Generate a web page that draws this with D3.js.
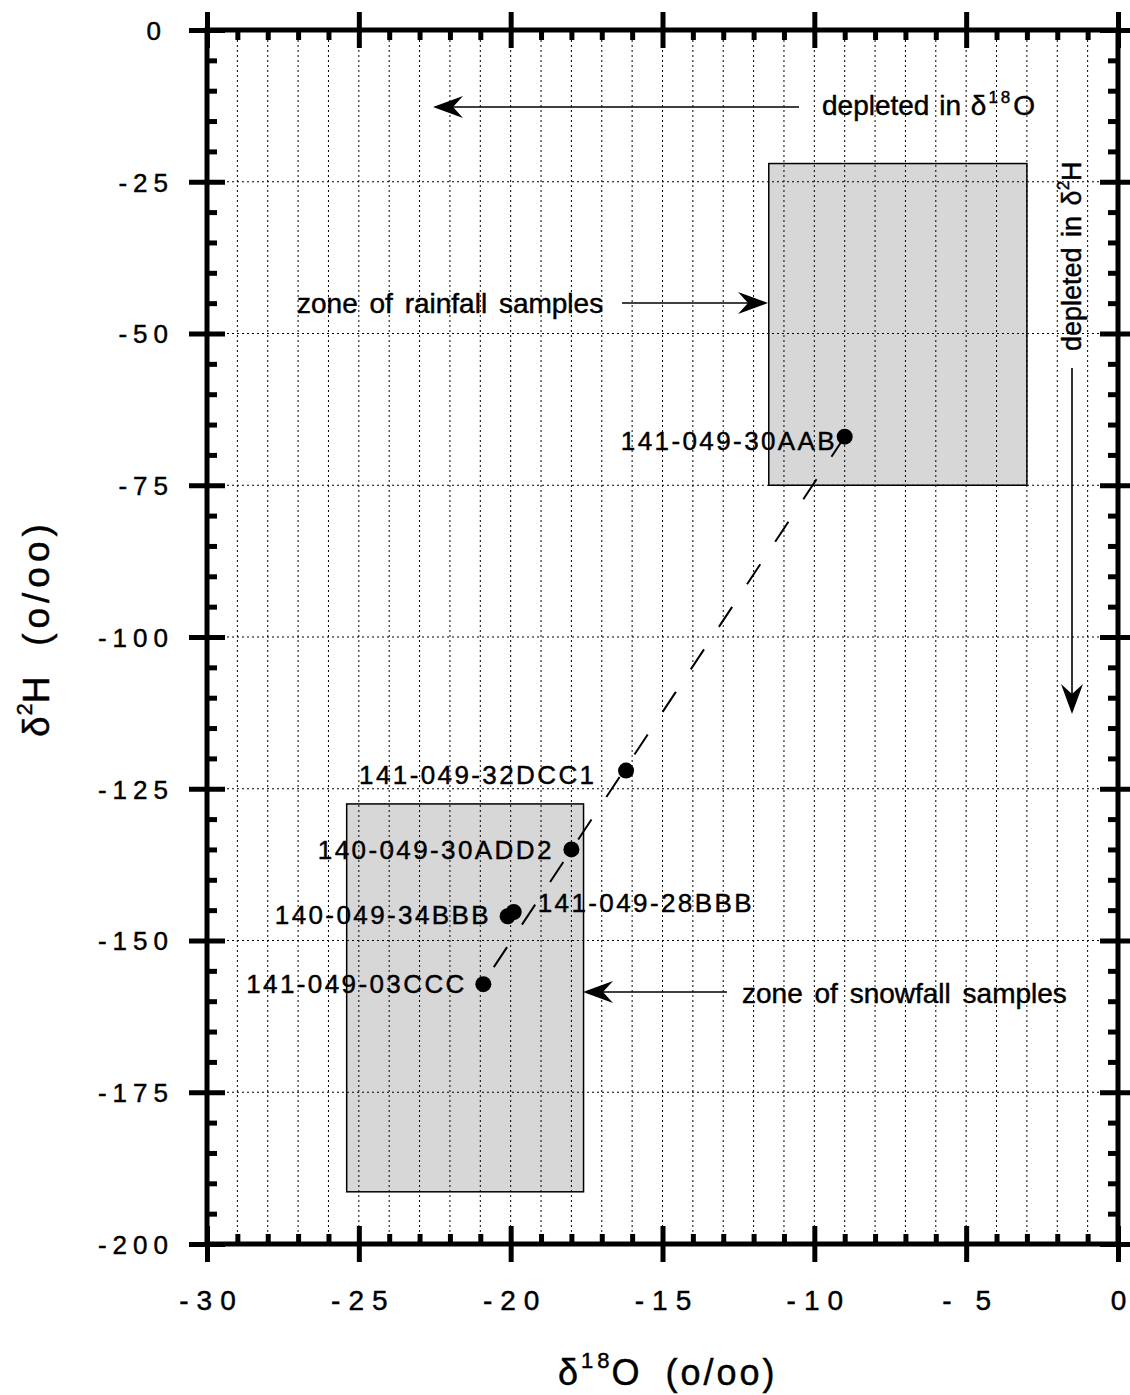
<!DOCTYPE html>
<html>
<head>
<meta charset="utf-8">
<script src="https://cdn.jsdelivr.net/npm/d3@7"></script>
<style>
  html, body { margin: 0; padding: 0; background: #fff; }
  svg { display: block; font-family: "Liberation Sans", Arial, Helvetica, sans-serif; }
  text { stroke: #000; stroke-width: 0.45px; }
</style>
</head>
<body>
<script>
// ---------- data ----------
const xTicks = [-30, -25, -20, -15, -10, -5, 0];
const xTickLabels = ["-30", "-25", "-20", "-15", "-10", "- 5", "0"];
const yTicks = [0, -25, -50, -75, -100, -125, -150, -175, -200];
const yTickLabels = ["0", "-25", "-50", "-75", "-100", "-125", "-150", "-175", "-200"];

const sampleNames = ["141-049-30AAB", "141-049-32DCC1", "140-049-30ADD2", "140-049-34BBB", "141-049-28BBB", "141-049-03CCC"];
const sampleO18 = [-9.0, -16.2, -18.0, -20.1, -19.9, -20.9];
const sampleH2 = [-67.0, -122.0, -135.0, -146.0, -145.3, -157.2];

// zones
const zoneNames = ["rainfall", "snowfall"];
const zoneO18Min = [-11.5, -25.4];
const zoneO18Max = [-3.0, -17.6];
const zoneH2Max = [-22.0, -127.5];
const zoneH2Min = [-75.0, -191.4];

// trend line end points
const trendO18 = [-9.0, -20.9];
const trendH2 = [-67.0, -157.0];

// ---------- layout ----------
const W = 1130, H = 1395;
const x = d3.scaleLinear().domain([-30, 0]).range([207, 1118]);
const y = d3.scaleLinear().domain([0, -200]).range([30, 1244]);

const svg = d3.select("body").append("svg").attr("width", W).attr("height", H);

// zones
svg.append("g").selectAll("rect").data(zoneNames).join("rect")
  .attr("x", (d, i) => x(zoneO18Min[i]))
  .attr("y", (d, i) => y(zoneH2Max[i]))
  .attr("width", (d, i) => x(zoneO18Max[i]) - x(zoneO18Min[i]))
  .attr("height", (d, i) => y(zoneH2Min[i]) - y(zoneH2Max[i]))
  .attr("fill", "#d7d7d7").attr("stroke", "#000").attr("stroke-width", 1.5);

// grid
const xGrid = d3.range(-29, 0, 1);
const yGrid = yTicks.slice(1, -1);
const grid = svg.append("g").attr("stroke", "#000").attr("stroke-width", 1).attr("stroke-dasharray", "2,3");
grid.selectAll("line.v").data(xGrid).join("line").attr("class", "v")
  .attr("x1", d => x(d)).attr("x2", d => x(d)).attr("y1", y(0)).attr("y2", y(-200));
grid.selectAll("line.h").data(yGrid).join("line").attr("class", "h")
  .attr("x1", x(-30)).attr("x2", x(0)).attr("y1", d => y(d)).attr("y2", d => y(d));

// trend line
svg.append("line")
  .attr("x1", x(trendO18[0])).attr("y1", y(trendH2[0]))
  .attr("x2", x(trendO18[1])).attr("y2", y(trendH2[1]))
  .attr("stroke", "#000").attr("stroke-width", 2).attr("stroke-dasharray", "24,27");

// axes
const xMinor = d3.range(-29, 0, 1).filter(d => d % 5 !== 0);
const yMinor = d3.range(-5, -200, -5).filter(d => d % 25 !== 0);
const tickW = 5;

function styleAxis(g) {
  g.select(".domain").remove();
  g.selectAll(".tick line").attr("stroke", "#000").attr("stroke-width", tickW);
}

// bottom
const gb = svg.append("g").attr("transform", `translate(0,${y(-200)})`)
  .call(d3.axisBottom(x).tickValues(xTicks).tickSize(18).tickFormat((d, i) => xTickLabels[i]));
styleAxis(gb);
gb.selectAll(".tick line").attr("y1", -18);
gb.selectAll(".tick text").attr("y", 66).attr("dy", 0)
  .attr("dx", (d, i) => xTickLabels[i].length > 1 ? 4 : 0)
  .attr("font-size", 28)
  .attr("letter-spacing", (d, i) => xTickLabels[i].length > 1 ? 8 : 0)
  .attr("fill", "#000")
  .style("white-space", "pre").attr("font-family", "Liberation Sans, Arial, sans-serif");
const gbm = svg.append("g").attr("transform", `translate(0,${y(-200)})`)
  .call(d3.axisBottom(x).tickValues(xMinor).tickSize(-10).tickFormat(""));
styleAxis(gbm);

// top
const gt = svg.append("g").attr("transform", `translate(0,${y(0)})`)
  .call(d3.axisTop(x).tickValues(xTicks).tickSize(18).tickFormat(""));
styleAxis(gt);
gt.selectAll(".tick line").attr("y1", 18);
const gtm = svg.append("g").attr("transform", `translate(0,${y(0)})`)
  .call(d3.axisTop(x).tickValues(xMinor).tickSize(-10).tickFormat(""));
styleAxis(gtm);

// left
const gl = svg.append("g").attr("transform", `translate(${x(-30)},0)`)
  .call(d3.axisLeft(y).tickValues(yTicks).tickSize(18).tickFormat((d, i) => yTickLabels[i]));
styleAxis(gl);
gl.selectAll(".tick line").attr("x1", 18);
gl.selectAll(".tick text")
  .attr("x", (d, i) => yTickLabels[i].length > 1 ? -33 : -40)
  .attr("dy", "0.36em")
  .attr("font-size", 26).attr("letter-spacing", 6).attr("fill", "#000")
  .attr("font-family", "Liberation Sans, Arial, sans-serif");
const glm = svg.append("g").attr("transform", `translate(${x(-30)},0)`)
  .call(d3.axisLeft(y).tickValues(yMinor).tickSize(-10).tickFormat(""));
styleAxis(glm);

// right
const gr = svg.append("g").attr("transform", `translate(${x(0)},0)`)
  .call(d3.axisRight(y).tickValues(yTicks).tickSize(18).tickFormat(""));
styleAxis(gr);
gr.selectAll(".tick line").attr("x1", -18);
const grm = svg.append("g").attr("transform", `translate(${x(0)},0)`)
  .call(d3.axisRight(y).tickValues(yMinor).tickSize(-10).tickFormat(""));
styleAxis(grm);

// frame
svg.append("rect")
  .attr("x", x(-30)).attr("y", y(0))
  .attr("width", x(0) - x(-30)).attr("height", y(-200) - y(0))
  .attr("fill", "none").attr("stroke", "#000").attr("stroke-width", 5);

// points
svg.append("g").selectAll("circle").data(sampleNames).join("circle")
  .attr("cx", (d, i) => x(sampleO18[i]))
  .attr("cy", (d, i) => y(sampleH2[i]))
  .attr("r", 8).attr("fill", "#000");

// point labels (offsets in px relative to the point)
const labelLayout = [
  { dx: -10, dy: 13, anchor: "end" },
  { dx: -32, dy: 13, anchor: "end" },
  { dx: -20, dy: 10, anchor: "end" },
  { dx: -19, dy: 8, anchor: "end" },
  { dx: 24, dy: 0, anchor: "start" },
  { dx: -19, dy: 9, anchor: "end" }
];
const ls = 2.4;
svg.append("g").selectAll("text").data(sampleNames).join("text")
  .attr("x", (d, i) => x(sampleO18[i]) + labelLayout[i].dx + (labelLayout[i].anchor === "end" ? ls : 0))
  .attr("y", (d, i) => y(sampleH2[i]) + labelLayout[i].dy)
  .attr("text-anchor", (d, i) => labelLayout[i].anchor)
  .attr("font-size", 26).attr("letter-spacing", ls).attr("fill", "#000")
  .text(d => d);

// arrows
function arrow(x1, y1, x2, y2) {
  const a = Math.atan2(y2 - y1, x2 - x1);
  const g = svg.append("g");
  const L = 30, N = 20, Wd = 11;
  const bx = x2 - N * Math.cos(a), by = y2 - N * Math.sin(a);
  g.append("line").attr("x1", x1).attr("y1", y1).attr("x2", bx).attr("y2", by)
    .attr("stroke", "#000").attr("stroke-width", 1.6);
  const px = -Math.sin(a), py = Math.cos(a);
  const cx = x2 - L * Math.cos(a), cy = y2 - L * Math.sin(a);
  const p = [[x2, y2], [cx + px * Wd, cy + py * Wd], [bx, by], [cx - px * Wd, cy - py * Wd]];
  g.append("path").attr("d", "M" + p.map(q => q.join(",")).join("L") + "Z").attr("fill", "#000");
}
arrow(799, 107, 433, 107);
arrow(622, 303, 768, 303);
arrow(727, 992, 583, 992);
arrow(1072, 368, 1072, 714);

// annotation texts
const ann = svg.append("g").attr("font-size", 28).attr("fill", "#000");
const t1 = ann.append("text").attr("x", 822).attr("y", 115).attr("word-spacing", 2);
t1.append("tspan").text("depleted in δ");
t1.append("tspan").attr("font-size", 17).attr("dy", -12).attr("letter-spacing", 3).attr("dx", 2).text("18");
t1.append("tspan").attr("dy", 12).text("O");

ann.append("text").attr("x", 297).attr("y", 313).attr("word-spacing", 4).text("zone of rainfall samples");
ann.append("text").attr("x", 742).attr("y", 1003).attr("word-spacing", 4).text("zone of snowfall samples");

const t4 = ann.append("text").attr("transform", "translate(1081,351) rotate(-90)").attr("font-size", 27).attr("word-spacing", 3);
t4.append("tspan").text("depleted in δ");
t4.append("tspan").attr("font-size", 17).attr("dy", -12).text("2");
t4.append("tspan").attr("dy", 12).text("H");

// axis titles
const xt = svg.append("text").attr("x", 558).attr("y", 1385).attr("font-size", 36).attr("fill", "#000")
  .style("white-space", "pre");
xt.append("tspan").text("δ");
xt.append("tspan").attr("font-size", 22).attr("dy", -17).attr("dx", 3).attr("letter-spacing", 4).text("18");
xt.append("tspan").attr("dy", 17).attr("dx", -2).text("O");
xt.append("tspan").attr("letter-spacing", 3).text("  (o/oo)");

const yt = svg.append("text").attr("transform", "translate(49,737) rotate(-90)").attr("font-size", 37).attr("fill", "#000")
  .style("white-space", "pre");
yt.append("tspan").text("δ");
yt.append("tspan").attr("font-size", 22).attr("dy", -17).attr("dx", 1).text("2");
yt.append("tspan").attr("dy", 17).text("H");
yt.append("tspan").attr("letter-spacing", 5).text("  (o/oo)");
</script>
</body>
</html>
